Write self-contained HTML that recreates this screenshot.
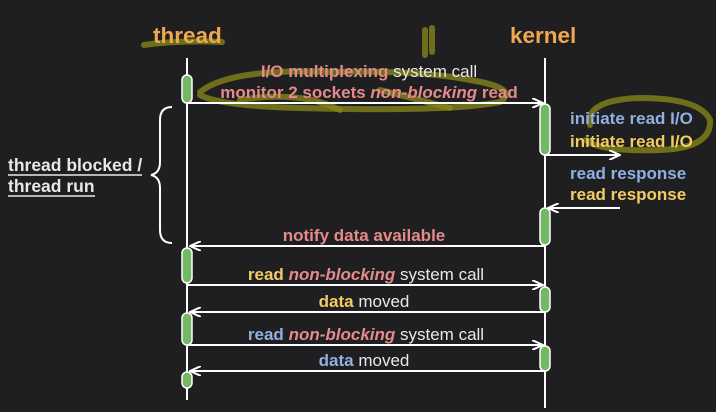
<!DOCTYPE html>
<html><head><meta charset="utf-8"><style>
html,body{margin:0;padding:0;background:#1f1f21;}
svg{display:block;}
text{font-family:"Liberation Sans",sans-serif;font-weight:bold;}
</style></head><body>
<svg width="716" height="412" viewBox="0 0 716 412" xmlns="http://www.w3.org/2000/svg">
<rect width="716" height="412" fill="#1f1f21"/>
<defs>
<marker id="a" markerWidth="12" markerHeight="10" refX="11" refY="5" orient="auto" markerUnits="userSpaceOnUse">
<path d="M0,0 L11,5 L0,10" fill="none" stroke="#fff" stroke-width="2"/>
</marker>
</defs>
<g fill="none" stroke="#8a8a1a" stroke-opacity="0.75" stroke-linecap="round" stroke-width="6">
<path d="M144,45 Q180,40 222,42"/>
<path d="M200,92 Q230,68 330,72 Q420,70 470,80 Q520,88 500,102 Q450,112 300,108 Q220,106 200,95"/>
<path d="M240,100 Q300,90 340,110 M380,90 Q420,100 450,108"/>
<path d="M425,30 L425,55 M432,28 L432,52"/>
<path d="M590,125 Q585,100 640,98 Q700,98 710,120 Q712,148 660,150 Q600,152 586,140"/>
</g>
<text x="153" y="43" fill="#f0a850" font-size="22.5">thread</text>
<text x="510" y="43" fill="#f0a850" font-size="22.5">kernel</text>
<line x1="187" y1="58" x2="187" y2="400" stroke="#fff" stroke-width="2"/>
<line x1="545" y1="58" x2="545" y2="408" stroke="#fff" stroke-width="2"/>
<g stroke="#fff" stroke-width="2" marker-end="url(#a)">
<line x1="188" y1="103" x2="543" y2="103"/>
<line x1="546" y1="155" x2="620" y2="155"/>
<line x1="620" y1="208" x2="548" y2="208"/>
<line x1="544" y1="246" x2="190" y2="246"/>
<line x1="188" y1="285" x2="543" y2="285"/>
<line x1="544" y1="312" x2="190" y2="312"/>
<line x1="188" y1="345" x2="543" y2="345"/>
<line x1="544" y1="371" x2="190" y2="371"/>
</g>
<g fill="#74b866" stroke="#fff" stroke-width="1.5">
<rect x="182" y="75" width="10" height="28" rx="5"/>
<rect x="182" y="248" width="10" height="35" rx="5"/>
<rect x="182" y="313" width="10" height="32" rx="5"/>
<rect x="182" y="372" width="10" height="16" rx="5"/>
<rect x="540" y="104" width="10" height="51" rx="5"/>
<rect x="540" y="208" width="10" height="37" rx="5"/>
<rect x="540" y="287" width="10" height="25" rx="5"/>
<rect x="540" y="346" width="10" height="25" rx="5"/>
</g>
<g font-size="17" text-anchor="middle">
<text x="369" y="77"><tspan fill="#e58a8a">I/O multiplexing</tspan><tspan fill="#e8e8e8" font-weight="normal"> system call</tspan></text>
<text x="369" y="98" fill="#e58a8a">monitor 2 sockets <tspan font-style="italic">non-blocking</tspan> read</text>
<text x="364" y="241" fill="#e58a8a">notify data available</text>
<text x="366" y="280"><tspan fill="#f2cc60">read</tspan> <tspan fill="#e58a8a" font-style="italic">non-blocking</tspan><tspan fill="#e8e8e8" font-weight="normal"> system call</tspan></text>
<text x="364" y="307"><tspan fill="#f2cc60">data</tspan><tspan fill="#e8e8e8" font-weight="normal"> moved</tspan></text>
<text x="366" y="340"><tspan fill="#8fb0e0">read</tspan> <tspan fill="#e58a8a" font-style="italic">non-blocking</tspan><tspan fill="#e8e8e8" font-weight="normal"> system call</tspan></text>
<text x="364" y="366"><tspan fill="#8fb0e0">data</tspan><tspan fill="#e8e8e8" font-weight="normal"> moved</tspan></text>
</g>
<g font-size="17">
<text x="570" y="124" fill="#8fb0e0">initiate read I/O</text>
<text x="570" y="147" fill="#f2cc60">initiate read I/O</text>
<text x="570" y="179" fill="#8fb0e0">read response</text>
<text x="570" y="200" fill="#f2cc60">read response</text>
</g>
<path d="M172,107 Q160,107 160,120 L160,162 Q160,173 151,175 Q160,177 160,188 L160,230 Q160,243 172,243" fill="none" stroke="#fff" stroke-width="2"/>
<g font-size="17.5" fill="#e8e8e8">
<text x="8" y="171">thread blocked /</text>
<text x="8" y="192">thread run</text>
</g>
<line x1="8" y1="175" x2="142" y2="175" stroke="#e8e8e8" stroke-width="1.5"/>
<line x1="8" y1="196" x2="95" y2="196" stroke="#e8e8e8" stroke-width="1.5"/>
</svg>
</body></html>
